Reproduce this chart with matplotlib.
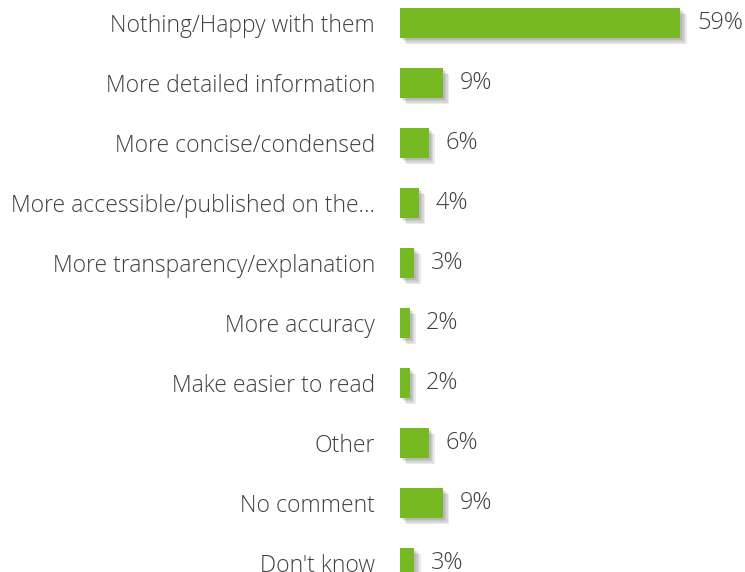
import matplotlib
matplotlib.use("Agg")
import matplotlib.pyplot as plt
import matplotlib.patheffects as pe

categories = ["Nothing/Happy with them", "More detailed information",
              "More concise/condensed", "More accessible/published on the\u2026",
              "More transparency/explanation", "More accuracy",
              "Make easier to read", "Other", "No comment", "Don't know"]
values = [59, 9, 6, 4, 3, 2, 2, 6, 9, 3]

green = "#76B922"
text_col = "#404040"

plt.rcParams['font.family'] = ['Open Sans', 'DejaVu Sans']

fig = plt.figure(figsize=(7.45, 5.72), dpi=100)
ax = fig.add_axes([400 / 745, 0, 345 / 745, 1])

# soft shadow: a few stacked faint offsets
shadow = [pe.SimplePatchShadow(offset=(d, -d), shadow_rgbFace="#555555", alpha=0.12)
          for d in (1.5, 2.5, 3.5, 4.5)]

ypos = list(range(len(categories)))
bars = ax.barh(ypos, values, height=0.5, color=green, zorder=3)
for b in bars:
    b.set_path_effects(shadow + [pe.Normal()])

for y, v in zip(ypos, values):
    ax.annotate(f"{v}%", (v, y), xytext=(12, 0), textcoords="offset points",
                va="center", ha="left", fontsize=17, color=text_col, fontweight="light")

ax.set_xlim(0, 345 / 4.75)
ax.set_ylim(549 / 60, -23 / 60)
ax.set_yticks(ypos)
ax.set_yticklabels(categories, fontsize=16.5, color=text_col, fontweight="light")
ax.tick_params(axis="y", length=0, pad=18)
ax.set_xticks([])
for s in ax.spines.values():
    s.set_visible(False)
ax.patch.set_alpha(0)

fig.savefig("out.png", dpi=100)
